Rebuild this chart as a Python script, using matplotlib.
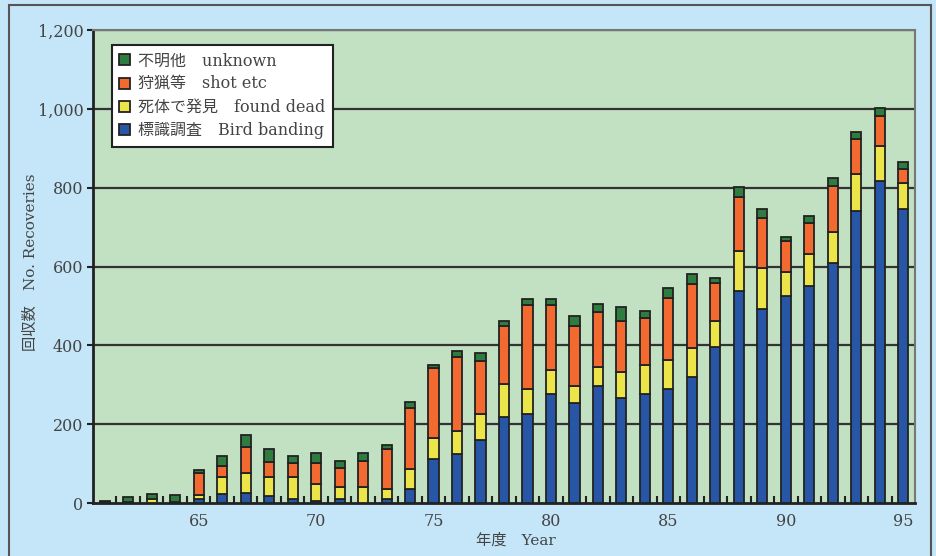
import matplotlib.pyplot as plt
from matplotlib.patches import Patch, Rectangle
from matplotlib.ticker import FixedLocator, FuncFormatter
import numpy as np

years = list(range(61, 96))

# recoveries by cause
banding = [2, 3, 0, 2, 10, 23, 25, 18, 11, 5, 10, 0, 10, 35, 112, 124, 160, 218, 225, 277,
           254, 297, 267, 277, 290, 320, 396, 539, 491, 526, 551, 610, 741, 818, 746]
dead = [0, 0, 9, 0, 11, 42, 52, 47, 54, 42, 31, 41, 25, 52, 53, 59, 66, 83, 64, 60,
        43, 47, 65, 72, 73, 72, 66, 101, 106, 59, 81, 77, 94, 88, 65]
shot = [0, 0, 2, 0, 56, 30, 64, 40, 36, 54, 47, 66, 101, 155, 177, 188, 135, 148, 214, 166,
        153, 141, 130, 120, 158, 164, 95, 136, 125, 79, 79, 117, 88, 77, 36]
unknown = [4, 13, 12, 19, 7, 24, 32, 31, 18, 25, 19, 19, 12, 13, 8, 15, 19, 14, 14, 14,
           24, 20, 36, 18, 24, 25, 13, 25, 24, 12, 18, 20, 19, 18, 18]

labels = ['不明他\u3000unknown', '狩猟等\u3000shot etc',
          '死体で発見\u3000found dead', '標識調査\u3000Bird banding']

FONT = ['DejaVu Serif', 'Noto Sans CJK JP']
plt.rcParams['font.family'] = FONT

BG = '#c4e6f8'
PLOT_BG = '#c2e0c2'
BLUE = '#2856a6'
YELLOW = '#ebe54a'
ORANGE = '#f26a30'
GREEN = '#2e7c3f'
EDGE = '#222222'
TXT = '#444444'

fig = plt.figure(figsize=(9.36, 5.56), dpi=100, facecolor=BG)
ax = fig.add_axes([93 / 936, 1 - 503 / 556, 822 / 936, 473 / 556])
ax.set_facecolor(PLOT_BG)

# outer frame of the figure
fig.patches.append(Rectangle((9 / 936, -0.05), 922 / 936, 1 - 5 / 556 + 0.05,
                             transform=fig.transFigure, fill=False,
                             edgecolor='#555555', linewidth=1.5))

x = np.array(years)
w = 0.43
b = np.zeros(len(years))
series = [(banding, BLUE), (dead, YELLOW), (shot, ORANGE), (unknown, GREEN)]
for vals, col in series:
    ax.bar(x, vals, width=w, bottom=b, color=col, edgecolor=EDGE, linewidth=1.3, zorder=3)
    b = b + np.array(vals)

ax.set_xlim(60.5, 95.5)
ax.set_ylim(0, 1200)
ax.set_yticks(range(0, 1201, 200))
ax.yaxis.set_major_formatter(FuncFormatter(lambda v, p: f'{int(v):,}'))
for yv in range(200, 1201, 200):
    ax.axhline(yv, color='#333333', linewidth=1.6, zorder=1)

ax.xaxis.set_major_locator(FixedLocator([65, 70, 75, 80, 85, 90, 95]))
ax.xaxis.set_minor_locator(FixedLocator([y + 0.5 for y in years[:-1]]))
ax.tick_params(axis='x', which='major', length=0, pad=7, labelsize=11.5, labelcolor=TXT)
ax.tick_params(axis='x', which='minor', direction='in', length=5, width=1.5, color=EDGE)
ax.tick_params(axis='y', direction='out', length=4, width=1.5, color=EDGE,
               labelsize=11.5, labelcolor=TXT, pad=3)

for s in ['left', 'bottom']:
    ax.spines[s].set_color(EDGE)
    ax.spines[s].set_linewidth(2)
for s in ['top', 'right']:
    ax.spines[s].set_color('#777777')
    ax.spines[s].set_linewidth(1.5)

fig.text(516 / 936, 1 - 540 / 556, '年度\u3000Year', ha='center', va='center',
         fontsize=11, color=TXT)
fig.text(31 / 936, 1 - 262 / 556, '回収数\u3000No. Recoveries', ha='center', va='center',
         rotation=90, fontsize=11, color=TXT)

handles = [Patch(facecolor=GREEN, edgecolor=EDGE, linewidth=1.3),
           Patch(facecolor=ORANGE, edgecolor=EDGE, linewidth=1.3),
           Patch(facecolor=YELLOW, edgecolor=EDGE, linewidth=1.3),
           Patch(facecolor=BLUE, edgecolor=EDGE, linewidth=1.3)]
leg = ax.legend(handles, labels, loc='upper left', bbox_to_anchor=(0.023, 0.968),
                borderaxespad=0, fontsize=11.5, frameon=True, fancybox=False,
                handlelength=0.7, handleheight=0.7, handletextpad=0.5,
                labelspacing=0.4, borderpad=0.45, labelcolor=TXT)
leg.get_frame().set_edgecolor(EDGE)
leg.get_frame().set_linewidth(1.5)
leg.get_frame().set_facecolor('white')
leg.get_frame().set_alpha(1)
leg.set_zorder(5)

plt.savefig('out.png', dpi=100, facecolor=BG)
